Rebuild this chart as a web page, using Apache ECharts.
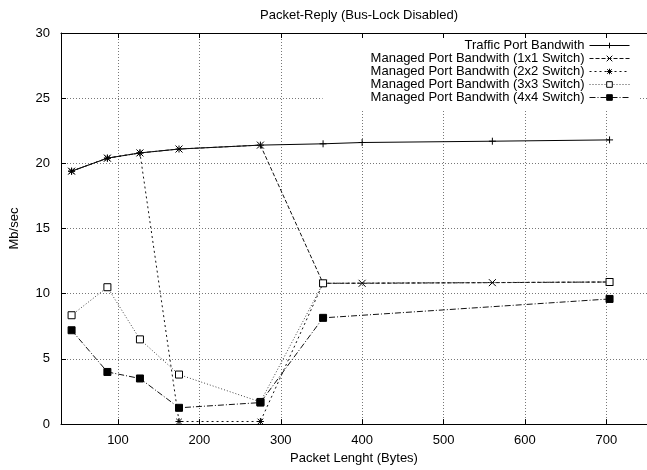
<!DOCTYPE html>
<html>
<head>
<meta charset="utf-8">
<script src="https://cdn.jsdelivr.net/npm/echarts@6/dist/echarts.min.js"></script>
<style>
  html, body { margin: 0; padding: 0; background: #fff; }
  #chart { width: 647px; height: 470px; }
</style>
</head>
<body>
<div id="chart"></div>
<script>
// packet sizes (bytes)
var xTraffic = [43, 87, 127, 175, 275, 352, 400, 560, 704];
var xSwitch = [43, 87, 127, 175, 275, 352, 704];

// bandwidth, Mb/sec
var trafficBw = [19.4, 20.4, 20.8, 21.1, 21.4, 21.5, 21.6, 21.7, 21.8];
var sw1x1 = [19.4, 20.4, 20.8, 21.1, 21.4, 10.8, 10.8, 10.85, 10.9];
var sw2x2 = [19.4, 20.4, 20.8, 0.2, 0.2, 10.8, 10.9];
var sw3x3 = [8.35, 10.5, 6.5, 3.8, 1.7, 10.8, 10.9];
var sw4x4 = [7.2, 4.0, 3.5, 1.25, 1.65, 8.15, 9.6];

var xTicks = [100, 200, 300, 400, 500, 600, 700];
var seriesNames = [
    'Traffic Port Bandwith',
    'Managed Port Bandwith (1x1 Switch)',
    'Managed Port Bandwith (2x2 Switch)',
    'Managed Port Bandwith (3x3 Switch)',
    'Managed Port Bandwith (4x4 Switch)'
];

var PLUS = 'path://M0,5L10,5M5,0L5,10';
var CROSS = 'path://M0,0L10,10M10,0L0,10';
var STAR = 'path://M0,5L10,5M5,0L5,10M1,1L9,9M9,1L1,9';

function zip(xs, ys) {
    var out = [];
    for (var i = 0; i < xs.length; i++) out.push([xs[i], ys[i]]);
    return out;
}

var FONT = 'Liberation Sans, Arial, Helvetica, sans-serif';
var FS = 13;

function makeSeries(name, xs, ys, symbol, size, dash, lineColor, fill) {
    return {
        name: name,
        type: 'line',
        data: zip(xs, ys),
        symbol: symbol,
        symbolSize: size,
        showSymbol: true,
        animation: false,
        lineStyle: { color: lineColor, width: 1, type: dash },
        itemStyle: { color: fill, borderColor: '#000', borderWidth: 1 },
        emphasis: { disabled: true }
    };
}

var chart = echarts.init(document.getElementById('chart'));
chart.setOption({
    animation: false,
    textStyle: { fontFamily: FONT },
    title: {
        text: 'Packet-Reply (Bus-Lock Disabled)',
        left: 354,
        textAlign: 'center',
        top: 4,
        textStyle: { fontSize: FS, fontWeight: 'normal', color: '#000', fontFamily: FONT }
    },
    grid: { left: 60, right: -4, top: 33, bottom: 44, containLabel: false },
    legend: {
        orient: 'vertical',
        align: 'right',
        right: 9,
        top: 34,
        z: 1,
        itemWidth: 40,
        itemHeight: 7,
        itemGap: 0,
        backgroundColor: '#fff',
        padding: [5, 8, 6, 48],
        lineStyle: { width: 1 },
        itemStyle: { borderWidth: 1 },
        textStyle: { fontSize: FS, color: '#000', fontFamily: FONT },
        data: seriesNames
    },
    xAxis: [{
        type: 'value',
        min: 30,
        max: 750,
        z: 0,
        name: 'Packet Lenght (Bytes)',
        nameLocation: 'middle',
        nameGap: 25,
        nameTextStyle: { fontSize: FS, color: '#000', fontFamily: FONT },
        axisLine: { onZero: false, lineStyle: { color: '#000', width: 1 } },
        axisTick: { inside: true, length: 5, customValues: xTicks, lineStyle: { color: '#000' } },
        axisLabel: { customValues: xTicks, fontSize: FS, color: '#000', margin: 10, fontFamily: FONT },
        splitLine: { show: true, lineStyle: { color: '#777', type: [1, 2], width: 1 } }
    }, {
        type: 'value',
        position: 'top',
        min: 30,
        max: 750,
        z: 3,
        axisLine: { onZero: false, lineStyle: { color: '#000', width: 1 } },
        axisTick: { inside: true, length: 5, customValues: xTicks, lineStyle: { color: '#000' } },
        axisLabel: { show: false },
        splitLine: { show: false }
    }],
    yAxis: [{
        type: 'value',
        min: 0,
        max: 30,
        interval: 5,
        z: 0,
        name: 'Mb/sec',
        nameLocation: 'middle',
        nameGap: 40,
        nameTextStyle: { fontSize: FS, color: '#000', fontFamily: FONT },
        axisLine: { show: true, onZero: false, lineStyle: { color: '#000', width: 1 } },
        axisTick: { show: true, inside: true, length: 5, lineStyle: { color: '#000' } },
        axisLabel: { fontSize: FS, color: '#000', margin: 11, fontFamily: FONT },
        splitLine: { show: true, lineStyle: { color: '#777', type: [1, 2], width: 1 } }
    }],
    series: [
        makeSeries(seriesNames[0], xTraffic, trafficBw, PLUS, 7, 'solid', '#000', '#000'),
        makeSeries(seriesNames[1], xTraffic, sw1x1, CROSS, 7, [4, 2], '#111', '#000'),
        makeSeries(seriesNames[2], xSwitch, sw2x2, STAR, 7, [2, 3], '#111', '#000'),
        makeSeries(seriesNames[3], xSwitch, sw3x3, 'rect', 7, [1, 2], '#444', '#fff'),
        makeSeries(seriesNames[4], xSwitch, sw4x4, 'rect', 7, [6, 2, 1, 2], '#111', '#000')
    ]
});
</script>
</body>
</html>
